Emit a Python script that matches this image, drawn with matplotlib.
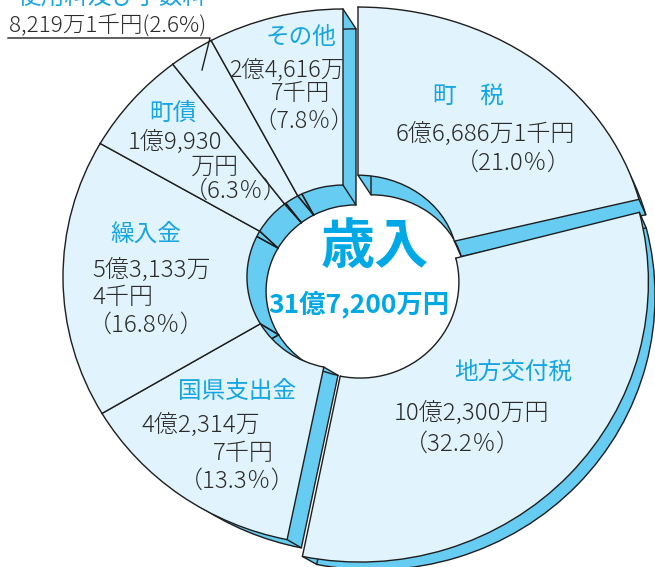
import numpy as np
import matplotlib
matplotlib.use('Agg')
import matplotlib.pyplot as plt
from matplotlib.patches import Wedge
from matplotlib.transforms import Affine2D

plt.rcParams['font.family'] = ['Noto Sans CJK JP', 'DejaVu Sans']

# ---------------- data ----------------
categories = ['町税', '地方交付税', '国県支出金', '繰入金', '町債', '使用料及び手数料', 'その他']
shares = [21.0, 32.2, 13.3, 16.8, 6.3, 2.6, 7.8]          # percent
amounts = ['6億6,686万1千円', '10億2,300万円', '4億2,314万7千円', '5億3,133万4千円',
           '1億9,930万円', '8,219万1千円', '2億4,616万7千円']
center_title = '歳入'
center_total = '31億7,200万円'

# ---------------- style / layout ----------------
W, H, DPI = 655, 567, 100
CX, CY, RX, RY = 343, 277, 280, 268        # pie centre / radii in pixels
R_IN = 0.343
explode_px = [(15, -14), (17, 5), (0, 0), (0, 0), (0, 0), (0, 0), (0, 0)]
stretch = [(1.036, 0.955), (1.03, 1.045), (1, 1), (1, 1), (1, 1), (1, 1), (1, 1)]
EXT_PX = (13, 14)
SHRINK_OUT_PX = 6
SHRINK_IN_PX = 6
FACE = '#E1F3FC'
SIDE = '#66CCF2'
EDGE = '#1e1e1e'
BLUE = '#14A5E3'
INK = '#2b2b2b'

display_names = ['町　税', '地方交付税', '国県支出金', '繰入金', '町債', '使用料及び手数料', 'その他']
amount_lines = [
    ['6億6,686万1千円'],
    ['10億2,300万円'],
    ['4億2,314万', '7千円'],
    ['5億3,133万', '4千円'],
    ['1億9,930', '万円'],
    [amounts[5] + f'({shares[5]:.1f}%)'],
    ['2億4,616万', '7千円'],
]
pct_lines = [f'（{s:.1f}％）' for s in shares]
pct_lines[5] = None

name_pos = [(468, 96), (513, 372), (237, 391), (146, 234), (173, 113), (112, -2), (301, 38)]
line_pos = [
    [(485, 134), (513, 163)],
    [(472, 413), (462, 444)],
    [(201, 425), (243, 453), (237, 481)],
    [(152, 270), (123, 297), (146, 325)],
    [(175, 142), (215, 167), (236, 191)],
    [(108, 25)],
    [(287, 70), (301, 94), (304, 122)],
]
line_size = [17.3, 17.3, 17.3, 17.3, 17.3, 16.2, 16.8]

fig = plt.figure(figsize=(W / DPI, H / DPI), dpi=DPI)
ax = fig.add_axes([0, 0, 1, 1])
ax.set_xlim(-CX / RX, (W - CX) / RX)
ax.set_ylim((CY - H) / RY, CY / RY)
ax.axis('off')


def px2d(dx, dy):
    return np.array([dx / RX, -dy / RY])


ext = px2d(*EXT_PX)
so = SHRINK_OUT_PX / ((RX + RY) / 2)
si = SHRINK_IN_PX / ((RX + RY) / 2)

bounds = 90 - 3.6 * np.concatenate([[0], np.cumsum(shares)])
slices = []
for i in range(len(shares)):
    th2, th1 = bounds[i], bounds[i + 1]
    c = px2d(*explode_px[i])
    slices.append((c, stretch[i], 1.0, R_IN, th1, th2))


def wedge(center, st, ro, ri, th1, th2, **kw):
    tr = Affine2D().scale(*st).translate(*center) + ax.transData
    w = Wedge((0, 0), ro, th1, th2, width=ro - ri, transform=tr, **kw)
    ax.add_patch(w)
    return w


def point(center, st, r, th):
    return center + np.array([st[0] * r * np.cos(np.radians(th)), st[1] * r * np.sin(np.radians(th))])


# extruded sides
N = 30
for t in np.linspace(1, 0, N, endpoint=False):
    for c, st, ro, ri, th1, th2 in slices:
        wedge(c + t * ext, st, ro - t * so, ri - t * si, th1, th2,
              facecolor=SIDE, edgecolor='none', zorder=1)

# back outlines and corner edges
for c, st, ro, ri, th1, th2 in slices:
    cb = c + ext
    rob, rib = ro - so, ri - si
    wedge(cb, st, rob, rib, th1, th2, facecolor='none', edgecolor=EDGE, lw=1.0, zorder=2)
    for th in (th1, th2):
        for r0, r1 in ((ro, rob), (ri, rib)):
            p0, p1 = point(c, st, r0, th), point(cb, st, r1, th)
            ax.plot([p0[0], p1[0]], [p0[1], p1[1]], color=EDGE, lw=1.0, zorder=2)

# top faces
for c, st, ro, ri, th1, th2 in slices:
    wedge(c, st, ro, ri, th1, th2, facecolor=FACE, edgecolor=EDGE, lw=1.0, zorder=3)

# ---------------- text overlay (pixel coordinates) ----------------
tx = fig.add_axes([0, 0, 1, 1], zorder=5)
tx.set_xlim(0, W)
tx.set_ylim(H, 0)
tx.axis('off')

for i in range(len(categories)):
    x, y = name_pos[i]
    tx.text(x, y, display_names[i], color=BLUE, fontsize=17, ha='center', va='center')
    lines = list(amount_lines[i])
    if pct_lines[i]:
        lines.append(pct_lines[i])
    for s, (lx, ly) in zip(lines, line_pos[i]):
        tx.text(lx, ly, s, color=INK, fontsize=line_size[i], fontweight='light',
                ha='center', va='center')

# leader for 使用料及び手数料
tx.plot([8, 210, 202], [38, 38, 70], color=EDGE, lw=1.0)

tx.text(375, 247, center_title, color='#00A8E6', fontsize=39, fontweight='bold',
        ha='center', va='center')
tx.text(359, 304, center_total, color='#00A8E6', fontsize=19, fontweight='bold',
        ha='center', va='center')

fig.savefig('out.png', dpi=DPI)
